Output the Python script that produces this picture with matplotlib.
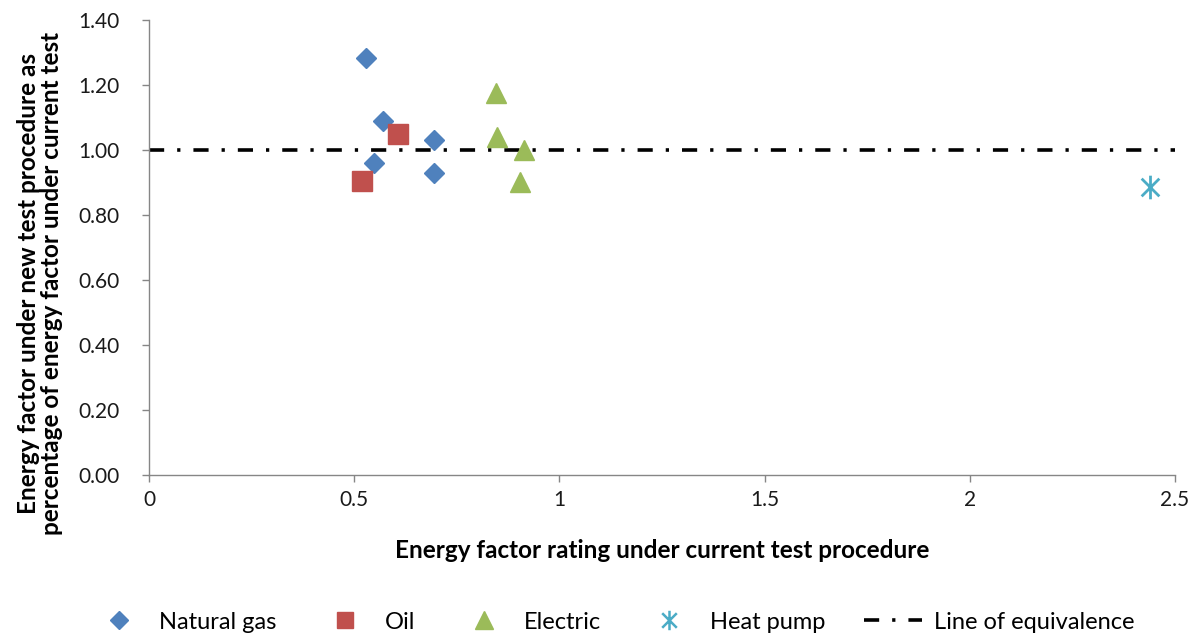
import numpy as np
import matplotlib
matplotlib.use("Agg")
import matplotlib.pyplot as plt
from matplotlib.path import Path
from matplotlib.lines import Line2D

# ---------------------------------------------------------------------------
# Data
# ---------------------------------------------------------------------------
gas_x = [0.529, 0.570, 0.548, 0.694, 0.694]
gas_y = [1.283, 1.089, 0.960, 1.031, 0.929]

oil_x = [0.519, 0.607]
oil_y = [0.905, 1.049]

elec_x = [0.846, 0.849, 0.914, 0.904]
elec_y = [1.175, 1.040, 1.000, 0.900]

hp_x = [2.439]
hp_y = [0.887]

equiv_x = [0.0, 2.5]
equiv_y = [1.0, 1.0]

x_ticks = [0, 0.5, 1, 1.5, 2, 2.5]
x_ticklabels = ["0", "0.5", "1", "1.5", "2", "2.5"]
y_ticks = [0.0, 0.2, 0.4, 0.6, 0.8, 1.0, 1.2, 1.4]
y_ticklabels = [f"{v:.2f}" for v in y_ticks]

BLUE = "#4f81bd"
RED = "#c0504d"
GREEN = "#9bbb59"
CYAN = "#4bacc6"
AXIS_GREY = "#868686"

LABEL_FS = 17.5
LEGEND_FS = 17
TICK_FS = 15
DASH = (0, (4.2, 3.6, 0.9, 3.6))

plt.rcParams["font.family"] = ["Lato", "DejaVu Sans"]

# asterisk: vertical stroke plus an X
star = Path(
    [(0, -1), (0, 1), (-0.75, -0.75), (0.75, 0.75), (-0.75, 0.75), (0.75, -0.75)],
    [Path.MOVETO, Path.LINETO, Path.MOVETO, Path.LINETO, Path.MOVETO, Path.LINETO],
)

fig = plt.figure(figsize=(11.94, 6.38), dpi=100)
ax = fig.add_axes([0.1248, 0.2555, 0.8593, 0.7132])

ax.plot(gas_x, gas_y, linestyle="none", marker="D", markersize=10.5,
        color=BLUE, label="Natural gas", zorder=3)
ax.plot(oil_x, oil_y, linestyle="none", marker="s", markersize=14,
        color=RED, label="Oil", zorder=3)
ax.plot(elec_x, elec_y, linestyle="none", marker="^", markersize=15,
        color=GREEN, label="Electric", zorder=3)
ax.plot(hp_x, hp_y, linestyle="none", marker=star, markersize=17,
        markeredgewidth=2.0, color=CYAN, markerfacecolor="none",
        label="Heat pump", zorder=3)
ax.plot(equiv_x, equiv_y, color="black", linewidth=2.6, linestyle=DASH,
        dash_capstyle="butt", label="Line of equivalence", zorder=2)

ax.set_xlim(0, 2.5)
ax.set_ylim(0, 1.4)
ax.set_xticks(x_ticks)
ax.set_xticklabels(x_ticklabels)
ax.set_yticks(y_ticks)
ax.set_yticklabels(y_ticklabels)

for side in ["top", "right"]:
    ax.spines[side].set_visible(False)
for side in ["left", "bottom"]:
    ax.spines[side].set_color(AXIS_GREY)
    ax.spines[side].set_linewidth(1.0)
ax.tick_params(axis="both", direction="out", length=5, width=1.0,
               color=AXIS_GREY, labelsize=TICK_FS, labelcolor="#1a1a1a")
ax.tick_params(axis="x", pad=6)
ax.tick_params(axis="y", pad=16)

ax.set_xlabel("Energy factor rating under current test procedure",
              fontsize=LABEL_FS, fontweight="bold", va="center")
ax.xaxis.set_label_coords(0.5, -0.165)
ax.set_ylabel("Energy factor under new test procedure as\n"
              "percentage of energy factor under current test",
              fontsize=LABEL_FS, fontweight="bold", linespacing=1.0,
              va="center")
ax.yaxis.set_label_coords(-0.106, 0.42)

handles = [
    Line2D([], [], linestyle="none", marker="D", markersize=9.5, color=BLUE),
    Line2D([], [], linestyle="none", marker="s", markersize=12, color=RED),
    Line2D([], [], linestyle="none", marker="^", markersize=13, color=GREEN),
    Line2D([], [], linestyle="none", marker=star, markersize=14,
           markeredgewidth=1.8, color=CYAN, markerfacecolor="none"),
    Line2D([], [], color="black", linewidth=2.6, linestyle=DASH,
           dash_capstyle="butt"),
]
labels = ["Natural gas", "Oil", "Electric", "Heat pump", "Line of equivalence"]
fig.legend(handles, labels, loc="center", bbox_to_anchor=(0.5126, 0.025),
           ncol=5, frameon=False, fontsize=LEGEND_FS, handlelength=2.45,
           columnspacing=1.65, handletextpad=0.5)

fig.savefig("out.png", dpi=100, facecolor="white")
